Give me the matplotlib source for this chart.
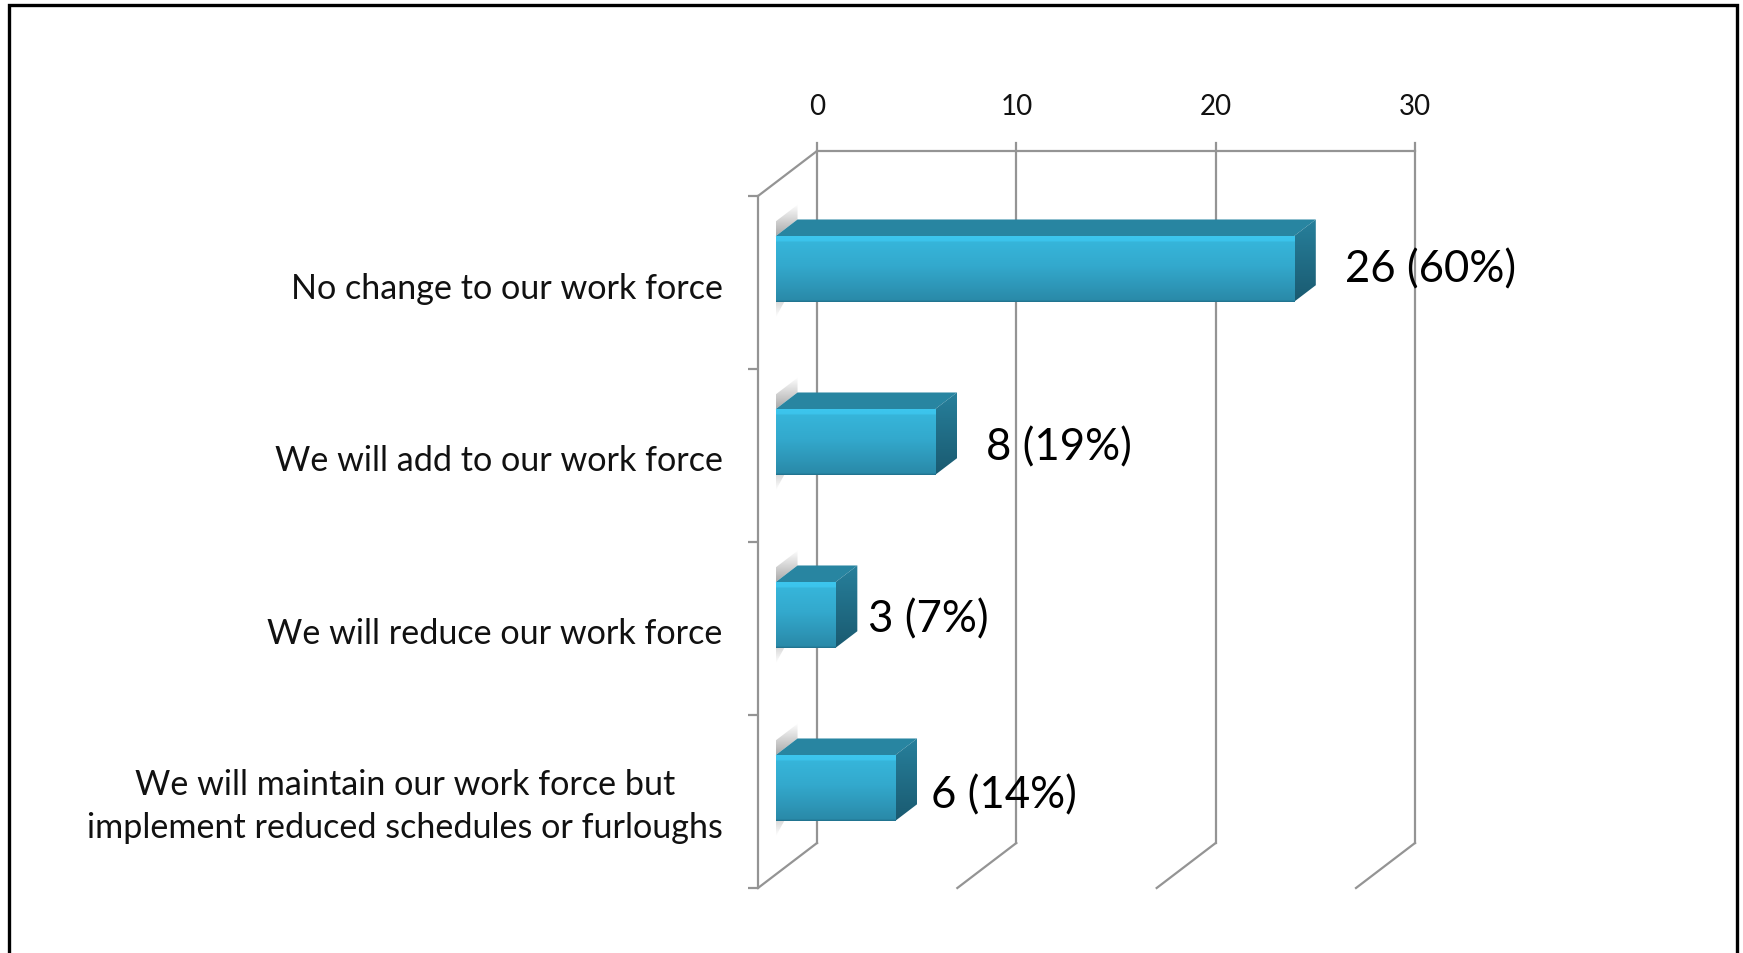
import matplotlib
matplotlib.use("Agg")
import matplotlib.pyplot as plt
import numpy as np
from matplotlib.colors import to_rgb
from matplotlib.patches import Polygon, Rectangle
from matplotlib.transforms import ScaledTranslation

categories = [
    "No change to our work force",
    "We will add to our work force",
    "We will reduce our work force",
    "We will maintain our work force but\nimplement reduced schedules or furloughs",
]
counts = [26, 8, 3, 6]
percents = [60, 19, 7, 14]
value_ticks = [0, 10, 20, 30]

# bildgroesse in pixel
W, H = 1743, 954
# vordere ebene des 3d kastens
LEFT, RIGHT, TOP, BOTTOM = 758, 1356, 197, 889
# tiefe in datenkoordinaten (x: werte, y: kategorien)
DEPTH_X = 59 / ((RIGHT - LEFT) / 30)
DEPTH_Y = 45 / ((BOTTOM - TOP) / 4)
BAR_H = 0.38
F0, F1 = 0.3, 0.67
GRID = "#949494"

# abstand label zum balkenende, von hand
label_gap = [1.47, 1.46, 0.54, 0.70]
label_dy = [-0.08, -0.052, -0.055, -0.04]
# kategorie-labels nach unten schieben (punkte)
cat_shift = [-1.5, -1, -1, 3]

plt.rcParams["font.family"] = ["Lato", "DejaVu Sans"]

fig = plt.figure(figsize=(W / 100, H / 100), dpi=100)
ax = fig.add_axes([LEFT / W, 1 - BOTTOM / H, (RIGHT - LEFT) / W, (BOTTOM - TOP) / H])
ax.patch.set_alpha(0)
for s in ax.spines.values():
    s.set_visible(False)


def proj(v, c, f):
    return v + f * DEPTH_X, c - f * DEPTH_Y


def gradient(stops):
    t = np.linspace(0, 1, 256)
    pos = [p for p, _ in stops]
    rgb = np.array([to_rgb(col) for _, col in stops])
    return np.stack([np.interp(t, pos, rgb[:, i]) for i in range(3)], axis=1)[:, None, :]


front_grad = gradient([(0, "#3cc6ee"), (0.07, "#3cc4ec"), (0.09, "#36b5da"), (0.45, "#33a9cd"),
                       (0.97, "#2a8aa9"), (1, "#1f6f8a")])
side_grad = gradient([(0, "#27809c"), (1, "#1a5a70")])
shadow_up = gradient([(0, "#ffffff"), (1, "#a8a8a8")])
shadow_down = gradient([(0, "#bdbdbd"), (1, "#ffffff")])


def clipped(grad, pts, z):
    xs = [p[0] for p in pts]
    ys = [p[1] for p in pts]
    im = ax.imshow(grad, extent=(min(xs), max(xs), max(ys), min(ys)), origin="upper",
                   aspect="auto", zorder=z)
    poly = Polygon(pts, closed=True, transform=ax.transData, fc="none", ec="none")
    ax.add_patch(poly)
    im.set_clip_path(poly)
    return im


# gitter: rueckwand, boden, seitenwand
for v in value_ticks:
    x_b, y_b = proj(v, 3.5, 1)
    x_t, y_t = proj(v, -0.5, 1)
    ax.plot([x_t, x_t], [y_t - 0.045, y_b], color=GRID, lw=1.6, zorder=1, clip_on=False)
    ax.plot([v, x_b], [3.5, y_b], color=GRID, lw=1.6, zorder=1, clip_on=False)
x0, y0 = proj(0, -0.5, 1)
x1, _ = proj(value_ticks[-1], -0.5, 1)
ax.plot([x0, x1], [y0, y0], color=GRID, lw=1.6, zorder=1, clip_on=False)
ax.plot([0, x0], [-0.5, y0], color=GRID, lw=1.6, zorder=1, clip_on=False)
ax.plot([0, 0], [-0.5, 3.5], color=GRID, lw=1.6, zorder=1, clip_on=False)

for v in value_ticks:
    x_t, y_t = proj(v, -0.5, 1)
    ax.text(x_t, y_t - 0.26, str(v), ha="center", va="center", fontsize=20, color="#111111")

# balken
for i, (n, p) in enumerate(zip(counts, percents)):
    top, bot = i - BAR_H / 2, i + BAR_H / 2

    # schatten links an der wand
    a = proj(0, top, F0)
    b = proj(0, top, F1)
    clipped(shadow_up, [a, b, (b[0], b[1] - 0.085), (a[0], a[1] - 0.085)], 2)
    a = proj(0, bot, F0)
    b = proj(0, bot, F0 + 0.25)
    clipped(shadow_down, [a, b, (a[0], a[1] + 0.09)], 2)

    # deckflaeche
    ax.add_patch(Polygon([proj(0, top, F0), proj(0, top, F1), proj(n, top, F1), proj(n, top, F0)],
                         closed=True, fc="#2885a1", ec="none", zorder=3))
    # seite
    clipped(side_grad, [proj(n, top, F0), proj(n, top, F1), proj(n, bot, F1), proj(n, bot, F0)], 3)
    # vorderseite
    fx0, fy0 = proj(0, top, F0)
    fx1, fy1 = proj(n, bot, F0)
    ax.imshow(front_grad, extent=(fx0, fx1, fy1, fy0), origin="upper", aspect="auto", zorder=4)

    ax.text(proj(n, i, F1)[0] + label_gap[i], i + label_dy[i], f"{n} ({p}%)",
            ha="left", va="center", fontsize=31.5, color="black", zorder=6)

ax.set_xlim(0, 30)
ax.set_ylim(3.5, -0.5)
ax.set_xticks([])
ax.set_yticks(range(len(categories)))
ax.set_yticklabels(categories, fontsize=24.6, color="#111111", multialignment="center",
                   linespacing=1.42)
ax.set_yticks(np.arange(-0.5, 4), minor=True)
ax.tick_params(axis="y", which="major", length=0, pad=25.5)
ax.tick_params(axis="y", which="minor", length=7.5, width=1.6, color=GRID)
for lab, dy in zip(ax.get_yticklabels(), cat_shift):
    lab.set_transform(lab.get_transform() + ScaledTranslation(0, dy / 72, fig.dpi_scale_trans))

# rahmen, unten aus dem bild raus
fig.add_artist(Rectangle((9 / W, -0.05), (1737 - 9) / W, 1.05 - 6 / H, transform=fig.transFigure,
                         fc="none", ec="black", lw=2.4))

fig.savefig("out.png", dpi=100)
